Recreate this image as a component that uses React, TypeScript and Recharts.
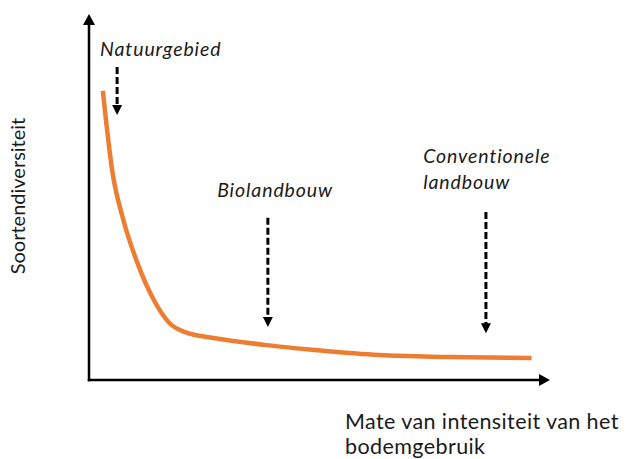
import { LineChart, Line, XAxis, YAxis, ReferenceLine, ReferenceDot } from "recharts";

// curve: intensity of land use (x) vs species diversity (y), arbitrary 0-100 units
const intensity = [3, 5, 7.5, 10.5, 14, 17.5, 21, 27, 38, 49, 63, 78, 96];
const diversity = [79, 57.5, 43.5, 32, 22, 15.5, 13, 11.5, 9.6, 8.2, 6.8, 6.3, 6];

// annotated land-use types
const markerNames = [["Natuurgebied"], ["Biolandbouw"], ["Conventionele", "landbouw"]];
const markerX = [6.1, 38.8, 86.1];
const arrowTop = [85.5, 44.3, 45.9];
const arrowTip = [72.4, 14.5, 12.8];
const labelX = [2.4, 27.8, 72.5];
const labelY = [89.8, 51.3, 60.6];

const yTitle = "Soortendiversiteit";
const xTitle = ["Mate van intensiteit van het", "bodemgebruik"];

const data = intensity.map((x, i) => ({ x, y: diversity[i] }));

const FONT = "Lato, 'Open Sans', sans-serif";
const INK = "#1a1a1a";

const downHead = (props: any) => {
  const { cx, cy } = props;
  return (
    <polygon
      points={`${cx - 5},${cy - 10} ${cx + 5},${cy - 10} ${cx},${cy}`}
      fill="#000"
    />
  );
};

const upHead = (props: any) => {
  const { cx, cy } = props;
  return (
    <polygon
      points={`${cx - 6},${cy + 11} ${cx + 6},${cy + 11} ${cx},${cy}`}
      fill="#000"
    />
  );
};

const rightHead = (props: any) => {
  const { cx, cy } = props;
  return (
    <polygon
      points={`${cx - 11},${cy - 6} ${cx - 11},${cy + 6} ${cx},${cy}`}
      fill="#000"
    />
  );
};

const italicLabel = (lines: string[]) => (props: any) => {
  const { cx, cy } = props;
  return (
    <text
      x={cx}
      y={cy}
      fill={INK}
      fontFamily={FONT}
      fontStyle="italic"
      fontSize={19.5}
      letterSpacing={0.9}
      textAnchor="start"
      dominantBaseline="middle"
    >
      {lines.map((l, i) => (
        <tspan key={l} x={cx} dy={i === 0 ? 0 : 26}>
          {l}
        </tspan>
      ))}
    </text>
  );
};

export default function App() {
  return (
    <div style={{ position: "absolute", left: 0, top: 0, background: "#fff" }}>
      <LineChart
        width={628}
        height={459}
        data={data}
        margin={{ top: 14, right: 78, bottom: 0, left: 0 }}
      >
        <XAxis
          dataKey="x"
          type="number"
          domain={[0, 100]}
          height={79}
          tick={false}
          tickLine={false}
          axisLine={false}
          label={{
            content: (p: any) => {
              const vb = p.viewBox;
              return (
                <text fill={INK} fontFamily={FONT} fontSize={21.5} letterSpacing={0.4}>
                  {xTitle.map((l, i) => (
                    <tspan key={l} x={vb.x + 256} y={vb.y + 49 + i * 25}>
                      {l}
                    </tspan>
                  ))}
                </text>
              );
            },
          }}
        />
        <YAxis
          type="number"
          domain={[0, 100]}
          width={89}
          tick={false}
          tickLine={false}
          axisLine={false}
          label={{
            content: (p: any) => {
              const vb = p.viewBox;
              const cx = vb.x + 25;
              const cy = vb.y + vb.height / 2 - 1;
              return (
                <text
                  x={cx}
                  y={cy}
                  transform={`rotate(-90 ${cx} ${cy})`}
                  textAnchor="middle"
                  fill={INK}
                  fontFamily={FONT}
                  fontSize={20}
                >
                  {yTitle}
                </text>
              );
            },
          }}
        />

        {/* axes with arrows */}
        <ReferenceLine
          segment={[{ x: 0, y: 0 }, { x: 97.5, y: 0 }]}
          stroke="#000"
          strokeWidth={2.5}
          strokeLinecap="square"
        />
        <ReferenceLine
          segment={[{ x: 0, y: 0 }, { x: 0, y: 97 }]}
          stroke="#000"
          strokeWidth={2.5}
          strokeLinecap="square"
        />
        <ReferenceDot x={0} y={100} r={0} shape={upHead} ifOverflow="visible" />
        <ReferenceDot x={100} y={0} r={0} shape={rightHead} ifOverflow="visible" />

        <Line
          type="monotone"
          dataKey="y"
          stroke="#ED7D31"
          strokeWidth={4.5}
          dot={false}
          isAnimationActive={false}
        />

        {markerX.map((mx, i) => (
          <ReferenceLine
            key={"l" + i}
            segment={[{ x: mx, y: arrowTop[i] }, { x: mx, y: arrowTip[i] + 1.5 }]}
            stroke="#000"
            strokeWidth={3}
            strokeDasharray="7 3"
          />
        ))}
        {markerX.map((mx, i) => (
          <ReferenceDot key={"h" + i} x={mx} y={arrowTip[i]} r={0} shape={downHead} />
        ))}
        {markerNames.map((lines, i) => (
          <ReferenceDot
            key={"t" + i}
            x={labelX[i]}
            y={labelY[i]}
            r={0}
            shape={italicLabel(lines)}
          />
        ))}
      </LineChart>
    </div>
  );
}
